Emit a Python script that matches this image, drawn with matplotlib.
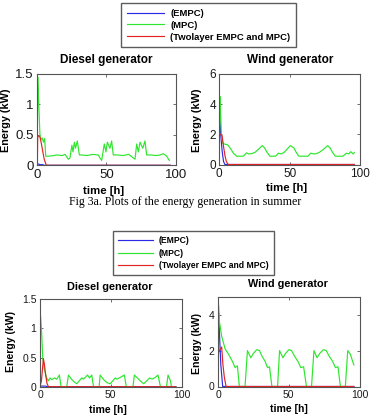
import matplotlib
matplotlib.use('Agg')
import matplotlib.pyplot as plt
from matplotlib.ticker import FormatStrFormatter

W, H = 370, 416

# ---- summer: diesel generator ----
sd_empc_t = [0, 1, 2, 3, 4, 5, 96]
sd_empc = [0.02, 0.02, 0.01, 0.01, 0.01, 0, 0]
sd_mpc_t = [0, 0.3, 0.7, 1.2, 1.9, 2.5, 3.5, 4.5, 5.3, 6.1, 8, 12, 14, 18, 20, 22.4,
            23.6, 25.0, 25.8, 26.8, 27.6, 28.9, 30.4, 32, 36, 40, 44, 45.3, 46.5, 48.4,
            49.6, 50.6, 52.5, 53.7, 54.9, 58, 62, 66, 69.4, 70.6, 71.8, 73.0, 74.2,
            76.2, 77.8, 79.0, 82, 86, 88.6, 91.1, 93.5, 95.4]
sd_mpc = [0.45, 1.45, 1.2, 0.92, 0.5, 0.42, 0.45, 0.38, 0.44, 0.15, 0.15, 0.16, 0.17, 0.16, 0.18, 0.1,
          0.12, 0.33, 0.22, 0.38, 0.28, 0.4, 0.17, 0.17, 0.16, 0.18, 0.17, 0.12, 0.08, 0.35,
          0.22, 0.38, 0.28, 0.4, 0.17, 0.17, 0.16, 0.18, 0.12, 0.1, 0.35, 0.22, 0.38,
          0.28, 0.4, 0.17, 0.17, 0.16, 0.17, 0.19, 0.15, 0.08]
sd_two_t = [0, 0.3, 1, 2, 3, 4, 5, 6.5, 96]
sd_two = [0, 0.48, 0.48, 0.46, 0.35, 0.22, 0.1, 0, 0]

# ---- summer: wind generator ----
sw_empc_t = [0, 0.5, 1, 2, 3, 4, 96]
sw_empc = [3.3, 3.0, 2.0, 0.9, 0.2, 0, 0]
sw_mpc_t = [0, 0.5, 1, 1.5, 2.5, 4, 6, 8, 10, 12.3, 17, 19.4, 21, 23, 25.3, 27.7, 30.5,
            32.2, 34, 36, 40, 42, 44, 46, 48, 50.5, 53, 54.7, 56.5, 58.5, 63, 65, 67, 69,
            71, 74, 77, 78.7, 80.5, 82.5, 87.9, 90.3, 92, 93.5, 95, 96]
sw_mpc = [2.0, 4.5, 3.2, 2.0, 1.4, 1.35, 1.3, 1.05, 0.75, 0.55, 0.55, 0.77, 0.7, 0.72, 0.8, 1.0, 1.25,
          1.1, 0.8, 0.55, 0.55, 0.75, 0.7, 0.8, 1.0, 1.25, 1.1, 0.8, 0.55, 0.55, 0.55, 0.75, 0.7,
          0.72, 0.8, 1.0, 1.25, 1.1, 0.8, 0.55, 0.55, 0.75, 0.7, 0.85, 0.7, 0.8]
sw_two_t = [0, 0.5, 1, 2, 3, 4, 5, 6.3, 96]
sw_two = [1.9, 2.0, 2.0, 1.9, 1.2, 0.6, 0.2, 0, 0]

# ---- winter: diesel generator ----
wd_empc_t = [0, 1, 2, 3, 4, 5, 96]
wd_empc = [0.01, 0.01, 0.01, 0.01, 0.01, 0, 0]
wd_mpc_t = [0, 0.5, 1.2, 1.9, 3.1, 4.7, 5.9, 7.1, 8.3, 10.2, 11.8, 13.7, 14.9, 18.9, 20.1,
            22.5, 24.8, 26.0, 29.5, 30.7, 33.6, 35.0, 36.6, 37.8, 41.8, 42.5, 45, 47.3,
            49.6, 53.2, 54.4, 57.5, 59.6, 61.0, 65.7, 66.7, 70.9, 73.3, 77.5, 79.2, 81.5,
            83.4, 85.1, 89.4, 90.5, 92.2, 92.9, 96]
wd_mpc = [1.0, 1.2, 0.9, 0.5, 0.3, 0.15, 0.1, 0.15, 0.12, 0.15, 0.13, 0.2, 0, 0, 0.2,
          0.12, 0.07, 0.05, 0.15, 0.13, 0.2, 0.15, 0.2, 0, 0, 0.2, 0.12, 0.07,
          0.05, 0.15, 0.13, 0.17, 0.2, 0, 0, 0.2, 0.1, 0.05, 0.15, 0.13, 0.16,
          0.2, 0, 0, 0.2, 0.1, 0, 0]
wd_two_t = [0, 1, 2.4, 3, 4, 5, 6, 96]
wd_two = [0, 0.1, 0.48, 0.4, 0.2, 0.05, 0, 0]

# ---- winter: wind generator ----
ww_empc_t = [0, 0.5, 1, 2, 3.3, 96]
ww_empc = [3.0, 4.1, 3.0, 1.2, 0, 0]
ww_mpc_t = [0, 0.5, 1, 2.6, 5.0, 7.4, 10.2, 12.1, 13.7, 15.1, 19.1, 20.8, 23.2, 25.1, 27.4,
            29.3, 31, 33.3, 35, 36.4, 38.1, 42.1, 43.5, 45.9, 47.8, 50.1, 52, 54, 56.5,
            58.5, 60.5, 62.5, 66.1, 67.8, 70, 72, 74.5, 76.5, 78.5, 81, 83, 84.8, 86.5,
            90, 91.7, 93.5, 96]
ww_mpc = [3.5, 4.5, 3.6, 2.8, 2.1, 1.8, 1.4, 1.05, 1.15, 0, 0, 2.0, 1.6, 1.85, 2.05,
          2.0, 1.7, 1.4, 1.05, 1.1, 0, 0, 2.0, 1.6, 1.85, 2.05, 2.0, 1.7, 1.4,
          1.05, 1.1, 0, 0, 2.0, 1.6, 1.85, 2.05, 2.0, 1.7, 1.4, 1.05, 1.1, 0,
          0, 2.0, 1.8, 1.2]
ww_two_t = [0, 1, 2.6, 3.5, 4.5, 5.7, 96]
ww_two = [1.8, 2.0, 2.2, 1.2, 0.5, 0, 0]

labels = ['(EMPC)', '(MPC)', '(Twolayer EMPC and MPC)']
colors = ['#2a2ae6', '#2ee62e', '#e32222']
SPINE = '#555555'
SANS = 'Liberation Sans'


def box(x0, y0, x1, y1):
    return [x0 / W, 1 - y1 / H, (x1 - x0) / W, (y1 - y0) / H]


def fpos(x, y):
    return x / W, 1 - y / H


def draw_axes(fig, rect, series, ylim, yticks, fmt, tick_fs):
    ax = fig.add_axes(box(*rect))
    handles = []
    for (t, v), c in zip(series, colors):
        ln, = ax.plot(t, v, color=c, lw=0.85)
        handles.append(ln)
    ax.set_xlim(0, 100)
    ax.set_ylim(*ylim)
    ax.set_xticks([0, 50, 100])
    ax.set_yticks(yticks)
    ax.yaxis.set_major_formatter(FormatStrFormatter(fmt))
    ax.tick_params(direction='in', length=2.2, width=0.6, color=SPINE,
                   top=True, right=True, labelsize=tick_fs, pad=2.5,
                   labelcolor='#1a1a1a')
    for lab in ax.get_xticklabels() + ax.get_yticklabels():
        lab.set_family(SANS)
    for s in ax.spines.values():
        s.set_color(SPINE)
        s.set_linewidth(0.8)
    return ax, handles


fig = plt.figure(figsize=(W / 100, H / 100), dpi=100)

# ---------- summer ----------
ax1, h1 = draw_axes(fig, (37.3, 74, 175.7, 165.3),
                    [(sd_empc_t, sd_empc), (sd_mpc_t, sd_mpc), (sd_two_t, sd_two)],
                    (0, 1.5), [0, 0.5, 1, 1.5], '%g', 9.5)
ax2, _ = draw_axes(fig, (219.3, 74, 360, 164.5),
                   [(sw_empc_t, sw_empc), (sw_mpc_t, sw_mpc), (sw_two_t, sw_two)],
                   (0, 6), [0, 2, 4, 6], '%g', 8.5)
leg = fig.legend(h1, labels, loc='upper left', bbox_to_anchor=fpos(121, 3.3),
                 borderaxespad=0, fancybox=False, edgecolor='#333333',
                 prop={'family': SANS, 'weight': 'bold', 'size': 6.8},
                 handlelength=3.9, handletextpad=0.7, labelspacing=0.3,
                 borderpad=0.6)
leg.get_frame().set_linewidth(1.0)

for ax, title, tx, ty in [(ax1, 'Diesel generator', 106, 60), (ax2, 'Wind generator', 290, 60)]:
    fig.text(*fpos(tx, ty), title, ha='center', va='center', family=SANS,
             weight='bold', size=8.5)
fig.text(*fpos(104, 191), 'time [h]', ha='center', va='center', family=SANS,
         weight='bold', size=8.2)
fig.text(*fpos(287, 188), 'time [h]', ha='center', va='center', family=SANS,
         weight='bold', size=8.2)
fig.text(*fpos(6, 120), 'Energy (kW)', rotation=90, ha='center', va='center',
         family=SANS, weight='bold', size=7.8)
fig.text(*fpos(197, 120), 'Energy (kW)', rotation=90, ha='center', va='center',
         family=SANS, weight='bold', size=7.8)
fig.text(*fpos(185, 202), 'Fig 3a. Plots of the energy generation in summer',
         ha='center', va='center', family='Liberation Serif', size=8.6)

# ---------- winter ----------
ax3, h3 = draw_axes(fig, (40, 299.3, 181.5, 386.7),
                    [(wd_empc_t, wd_empc), (wd_mpc_t, wd_mpc), (wd_two_t, wd_two)],
                    (0, 1.5), [0, 0.5, 1, 1.5], '%g', 7.5)
ax4, _ = draw_axes(fig, (218, 296.7, 359.5, 386.5),
                   [(ww_empc_t, ww_empc), (ww_mpc_t, ww_mpc), (ww_two_t, ww_two)],
                   (0, 5), [0, 2, 4], '%g', 7.5)
leg2 = fig.legend(h3, labels, loc='upper left', bbox_to_anchor=fpos(113, 231),
                  borderaxespad=0, fancybox=False, edgecolor='#333333',
                  prop={'family': SANS, 'weight': 'bold', 'size': 6.2},
                  handlelength=4.0, handletextpad=0.75, labelspacing=0.4,
                  borderpad=0.6)
leg2.get_frame().set_linewidth(1.0)

fig.text(*fpos(110, 286.7), 'Diesel generator', ha='center', va='center', family=SANS,
         weight='bold', size=7.8)
fig.text(*fpos(288, 284), 'Wind generator', ha='center', va='center', family=SANS,
         weight='bold', size=7.8)
fig.text(*fpos(108, 410), 'time [h]', ha='center', va='center', family=SANS,
         weight='bold', size=7.6)
fig.text(*fpos(289, 409.5), 'time [h]', ha='center', va='center', family=SANS,
         weight='bold', size=7.6)
fig.text(*fpos(11.5, 342), 'Energy (kW)', rotation=90, ha='center', va='center',
         family=SANS, weight='bold', size=7.6)
fig.text(*fpos(197.5, 344), 'Energy (kW)', rotation=90, ha='center', va='center',
         family=SANS, weight='bold', size=7.6)

fig.savefig('out.png', dpi=100)
